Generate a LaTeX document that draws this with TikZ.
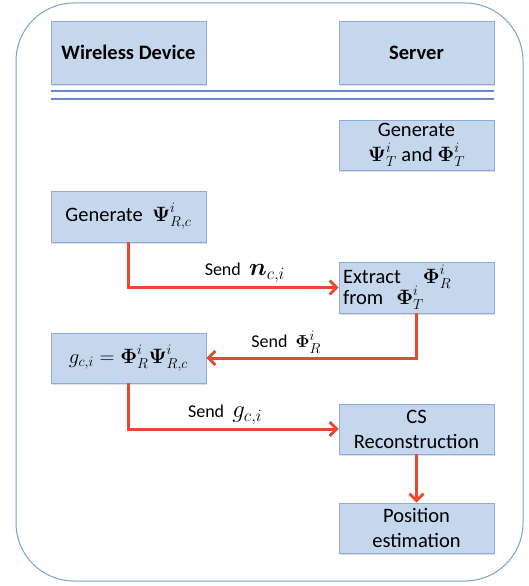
\documentclass[tikz,border=0pt]{standalone}
\usepackage{amsmath,bm}
\usepackage{fontspec}
\setmainfont{Carlito}
\usetikzlibrary{arrows.meta,shadows}
\definecolor{boxfill}{RGB}{197,215,236}
\definecolor{boxline}{RGB}{140,172,212}
\definecolor{frameline}{RGB}{120,160,210}
\definecolor{sepline}{RGB}{100,140,200}
\definecolor{flowred}{RGB}{230,72,48}
\tikzset{
  stage/.style={draw=boxline, fill=boxfill, line width=0.8pt,
    minimum width=155pt, inner sep=2pt, align=center,
    font=\fontsize{20.5}{25}\selectfont,
    drop shadow={shadow xshift=1pt, shadow yshift=-1.5pt, opacity=0.25}},
  header/.style={stage, minimum height=63pt, font=\fontsize{20.5}{25}\selectfont\bfseries},
  flow/.style={draw=flowred, line width=3pt,
    -{Straight Barb[length=7pt, width=14pt, line width=2.8pt]}},
  sendlabel/.style={above, inner sep=3pt, text=black, font=\fontsize{18}{21}\selectfont}
}
\begin{document}
\begin{tikzpicture}[x=1pt, y=-1pt]
\useasboundingbox (0,0) rectangle (529,586);

% outer frame
\draw[frameline, line width=1pt, rounded corners=58pt] (16,3) rectangle (523,581);

% column headers
\node[header] (wd) at (128.5,52.5) {Wireless Device};
\node[header] (srv) at (416.5,52.5) {Server};

% double separator
\draw[sepline, line width=2pt] (51,91) -- (494,91);
\draw[sepline, line width=2pt] (51,99) -- (494,99);

% stages
\node[stage, minimum height=50pt] (gent) at (416.5,145)
  {Generate\\ $\bm{\Psi}^{i}_{T}$ and $\bm{\Phi}^{i}_{T}$};
\node[stage, minimum height=51pt] (genr) at (128.5,216.5)
  {Generate \ $\bm{\Psi}^{i}_{R,c}$};
\node[stage, minimum height=51pt, align=left, text width=147pt] (extr) at (416.5,287.5)
  {Extract\hspace{22pt}$\bm{\Phi}^{i}_{R}$\\[-4pt] from\hspace{13pt}$\bm{\Phi}^{i}_{T}$};
\node[stage, minimum height=50pt, font=\fontsize{21.5}{25}\selectfont] (gci) at (128.5,358)
  {$g_{c,i}=\bm{\Phi}^{i}_{R}\bm{\Psi}^{i}_{R,c}$};
\node[stage, minimum height=50pt] (csr) at (416.5,429)
  {CS\\ Reconstruction};
\node[stage, minimum height=50pt] (pos) at (416.5,528)
  {Position\\ estimation};

% message flow
\draw[flow] (genr.south) |- (extr.west)
  node[sendlabel, pos=0.777] {Send \ {\fontsize{25}{28}\selectfont$\bm{n}_{c,i}$}};
\draw[flow] (extr.south) |- (gci.east)
  node[sendlabel, pos=0.81] {Send \ {\fontsize{19}{22}\selectfont$\bm{\Phi}^{i}_{R}$}};
\draw[flow] (gci.south) |- (csr.west)
  node[sendlabel, pos=0.73] {Send \ {\fontsize{25}{28}\selectfont$g_{c,i}$}};
\draw[flow] (csr.south) -- (pos.north);
\end{tikzpicture}
\end{document}
